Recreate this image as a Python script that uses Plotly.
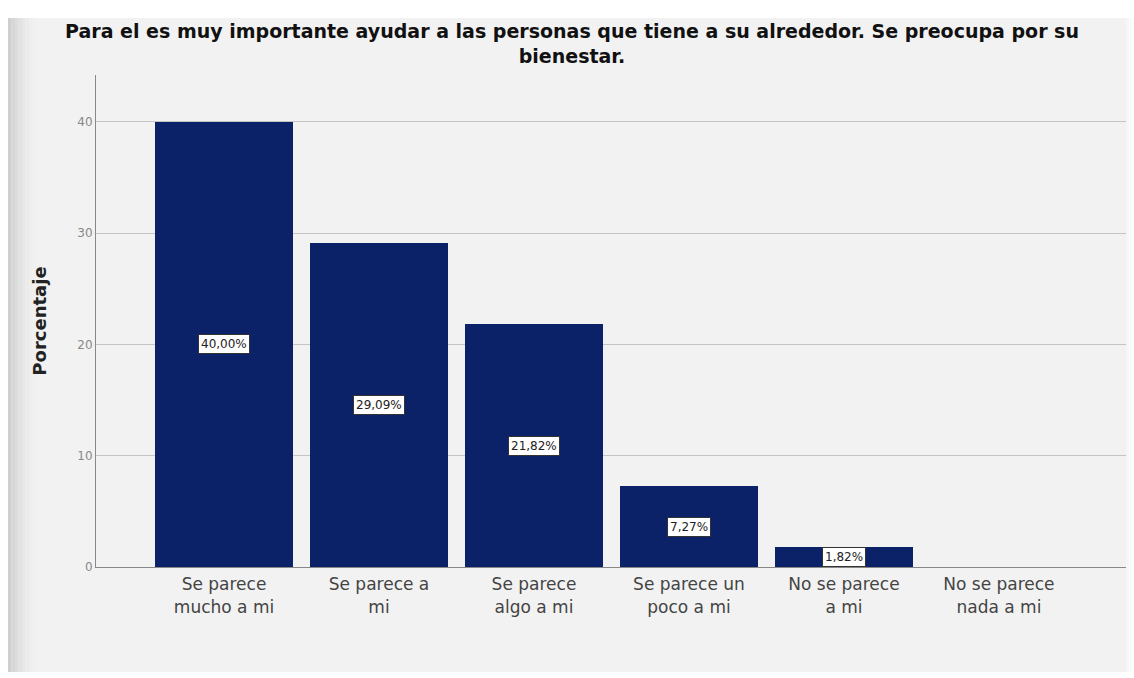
import plotly.graph_objects as go

categories = ["Se parece<br>mucho a mi", "Se parece a<br>mi", "Se parece<br>algo a mi",
              "Se parece un<br>poco a mi", "No se parece<br>a mi", "No se parece<br>nada a mi"]
values = [40.00, 29.09, 21.82, 7.27, 1.82, 0.0]
labels = ["40,00%", "29,09%", "21,82%", "7,27%", "1,82%", ""]
y_ticks = [0, 10, 20, 30, 40]
title = "Para el es muy importante ayudar a las personas que tiene a su alrededor. Se preocupa por su<br>bienestar."

W, H = 1134, 678
L, R, T, B = 96, 8, 75, 111


def px_x(px):
    return (px - L) / (W - L - R)


def px_y(py):
    return (H - B - py) / (H - T - B)


fig = go.Figure()
fig.add_trace(go.Bar(
    x=list(range(len(categories))), y=values, width=0.89,
    marker=dict(color="#0b2269", line=dict(width=0)),
    hoverinfo="skip",
))

for i, (v, lab) in enumerate(zip(values, labels)):
    if lab:
        fig.add_annotation(x=i, y=v / 2, text=lab, showarrow=False,
                           font=dict(family="DejaVu Sans", size=12, color="#222"),
                           bgcolor="white", bordercolor="#333", borderwidth=1, borderpad=2)

# frame decoration (bevel-like border)
shapes = []
shapes.append(dict(type="rect", xref="paper", yref="paper", x0=px_x(-5), x1=px_x(W + 5),
                   y0=px_y(18), y1=px_y(-5), fillcolor="white", line=dict(width=0), layer="below"))
shapes.append(dict(type="rect", xref="paper", yref="paper", x0=px_x(-5), x1=px_x(W + 5),
                   y0=px_y(H + 5), y1=px_y(672), fillcolor="white", line=dict(width=0), layer="below"))
shapes.append(dict(type="rect", xref="paper", yref="paper", x0=px_x(-5), x1=px_x(8),
                   y0=px_y(H + 5), y1=px_y(-5), fillcolor="white", line=dict(width=0), layer="below"))
grads = ["#cfcfcf", "#d6d6d6", "#dcdcdc", "#e2e2e2", "#e7e7e7", "#ebebeb", "#eeeeee", "#f0f0f0"]
for k, c in enumerate(grads):
    shapes.append(dict(type="rect", xref="paper", yref="paper", x0=px_x(8 + k * 3.5), x1=px_x(8 + (k + 1) * 3.5),
                       y0=px_y(672), y1=px_y(18), fillcolor=c, line=dict(width=0), layer="below"))
rgrads = ["#f6f6f6", "#fafafa", "#fdfdfd"]
for k, c in enumerate(rgrads):
    shapes.append(dict(type="rect", xref="paper", yref="paper", x0=px_x(1126 + k * 3), x1=px_x(1129 + k * 3),
                       y0=px_y(672), y1=px_y(18), fillcolor=c, line=dict(width=0), layer="below"))

fig.update_layout(
    width=W, height=H,
    margin=dict(l=L, r=R, t=T, b=B),
    paper_bgcolor="#f2f2f2", plot_bgcolor="#f2f2f2",
    shapes=shapes,
    title=dict(text=title, x=572 / W, xref="container", xanchor="center", y=1 - 38 / H, yanchor="top",
               font=dict(family="DejaVu Sans", size=19, color="#111", weight="bold")),
    showlegend=False, bargap=0,
    xaxis=dict(tickmode="array", tickvals=list(range(len(categories))), ticktext=categories,
               range=[-0.826, 5.82], showgrid=False, showline=True, linecolor="#888", linewidth=1,
               ticks="", automargin=False, ticklabelstandoff=2,
               tickfont=dict(family="DejaVu Sans", size=17, color="#444"), zeroline=False),
    yaxis=dict(range=[0, 44.2], tickvals=y_ticks, showgrid=True, gridcolor="#c4c4c4", gridwidth=1,
               showline=True, linecolor="#888", linewidth=1, zeroline=False, ticks="", automargin=False,
               tickfont=dict(family="DejaVu Sans", size=12, color="#888"),
               title=dict(text="Porcentaje", standoff=26,
                          font=dict(family="DejaVu Sans", size=18, color="#222", weight="bold"))),
)

fig.write_html("out.html", config={"displayModeBar": False},
               post_script="document.body.style.margin='0';document.body.style.overflow='hidden';")
